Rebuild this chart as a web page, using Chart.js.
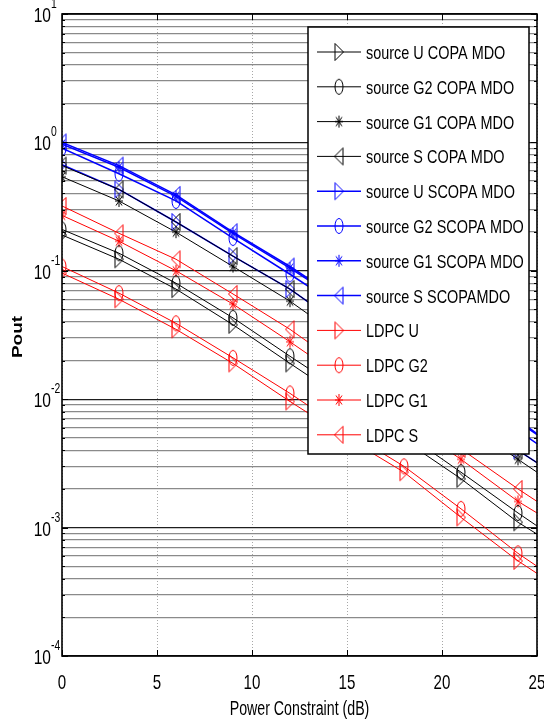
<!DOCTYPE html>
<html>
<head>
<meta charset="utf-8">
<script src="https://cdn.jsdelivr.net/npm/chart.js@4.4.1/dist/chart.umd.min.js"></script>
<style>
  html, body { margin: 0; padding: 0; background: #fff; }
  canvas { display: block; }
</style>
</head>
<body>
<canvas id="pout" width="544" height="722"></canvas>
<script>
// x values (dB); markers every 3 dB, last point only carries the line to the edge
const powerDb = [0, 3, 6, 9, 12, 15, 18, 21, 24, 25];
const xTicks = [0, 5, 10, 15, 20, 25];
const decades = [1e-4, 1e-3, 1e-2, 1e-1, 1, 10];

// COPA MDO (black)
const sourceU_COPA  = [0.19, 0.123, 0.072, 0.038, 0.019, 0.0096, 0.0048, 0.0024, 0.0011, 0.00089];
const sourceG2_COPA = [0.21, 0.137, 0.080, 0.043, 0.0216, 0.011, 0.0055, 0.0027, 0.0013, 0.00103];
const sourceG1_COPA = [0.54, 0.35, 0.20, 0.108, 0.058, 0.028, 0.0138, 0.0069, 0.0034, 0.0027];
const sourceS_COPA  = [0.66, 0.43, 0.24, 0.13, 0.072, 0.035, 0.0171, 0.0084, 0.0040, 0.0032];
// SCOPA MDO (blue)
const sourceU_SCOPA  = [0.67, 0.43, 0.24, 0.13, 0.072, 0.035, 0.0171, 0.0084, 0.0040, 0.0032];
const sourceG2_SCOPA = [0.90, 0.57, 0.35, 0.18, 0.094, 0.048, 0.024, 0.0117, 0.0057, 0.0045];
const sourceG1_SCOPA = [0.97, 0.64, 0.38, 0.196, 0.105, 0.054, 0.026, 0.0135, 0.0067, 0.0053];
const sourceS_SCOPA  = [1.00, 0.66, 0.39, 0.20, 0.108, 0.055, 0.027, 0.0138, 0.0069, 0.0054];
// LDPC (red)
const ldpcU  = [0.096, 0.060, 0.035, 0.019, 0.0096, 0.0050, 0.0027, 0.0012, 0.00055, 0.00044];
const ldpcG2 = [0.108, 0.067, 0.039, 0.021, 0.0111, 0.0056, 0.0030, 0.0014, 0.00063, 0.00050];
const ldpcG1 = [0.27, 0.17, 0.10, 0.055, 0.028, 0.0138, 0.0069, 0.0034, 0.0016, 0.0013];
const ldpcS  = [0.32, 0.196, 0.123, 0.066, 0.035, 0.017, 0.0084, 0.0041, 0.0020, 0.0016];

const FONT = "'Liberation Sans', Arial, sans-serif";

function makeMarker(shape, color) {
  const c = document.createElement('canvas');
  c.width = 12; c.height = 20;
  const g = c.getContext('2d');
  g.strokeStyle = color;
  g.lineWidth = 1;
  g.beginPath();
  if (shape === 'triR') {
    g.moveTo(2, 1.5); g.lineTo(10.5, 10); g.lineTo(2, 18.5); g.closePath();
  } else if (shape === 'triL') {
    g.moveTo(10, 1.5); g.lineTo(1.5, 10); g.lineTo(10, 18.5); g.closePath();
  } else if (shape === 'circle') {
    g.ellipse(6, 10, 4, 7.5, 0, 0, Math.PI * 2);
  } else {
    g.moveTo(6, 4); g.lineTo(6, 16);
    g.moveTo(2, 10); g.lineTo(10, 10);
    g.moveTo(3, 5.5); g.lineTo(9, 14.5);
    g.moveTo(9, 5.5); g.lineTo(3, 14.5);
  }
  g.stroke();
  return c;
}

function series(label, values, color, shape, width) {
  return {
    label,
    data: powerDb.map((x, i) => ({ x, y: values[i] })),
    borderColor: color,
    backgroundColor: color,
    borderWidth: width,
    pointStyle: makeMarker(shape, color),
    pointRadius: ctx => (ctx.raw && ctx.raw.x % 3 === 0 ? 5 : 0),
    pointHoverRadius: 0
  };
}

const BLACK = '#000000', BLUE = '#0000ff', RED = '#ff0000';
const datasets = [
  series('source U COPA MDO', sourceU_COPA, BLACK, 'triR', 1),
  series('source G2 COPA MDO', sourceG2_COPA, BLACK, 'circle', 1),
  series('source G1 COPA MDO', sourceG1_COPA, BLACK, 'star', 1),
  series('source S COPA MDO', sourceS_COPA, BLACK, 'triL', 1),
  series('source U SCOPA MDO', sourceU_SCOPA, BLUE, 'triR', 1.5),
  series('source G2 SCOPA MDO', sourceG2_SCOPA, BLUE, 'circle', 1.5),
  series('source G1 SCOPA MDO', sourceG1_SCOPA, BLUE, 'star', 1.5),
  series('source S SCOPAMDO', sourceS_SCOPA, BLUE, 'triL', 1.5),
  series('LDPC U', ldpcU, RED, 'triR', 1),
  series('LDPC G2', ldpcG2, RED, 'circle', 1),
  series('LDPC G1', ldpcG1, RED, 'star', 1),
  series('LDPC S', ldpcS, RED, 'triL', 1)
];

const isDecade = v => Math.abs(Math.log10(v) - Math.round(Math.log10(v))) < 1e-9;

// full log grid: 1..9 x each decade
const logGrid = [];
decades.slice(0, -1).forEach(d => { for (let m = 1; m < 10; m++) logGrid.push(d * m); });
logGrid.push(decades[decades.length - 1]);

// the figure's text is condensed: draw it squeezed horizontally
function narrowText(ctx, text, x, y, size, align, squeeze) {
  ctx.save();
  ctx.translate(x, y);
  ctx.scale(squeeze, 1);
  ctx.font = `${size}px ${FONT}`;
  ctx.textAlign = align;
  ctx.textBaseline = 'alphabetic';
  ctx.fillText(text, 0, 0);
  ctx.restore();
}

const matlabFrame = {
  id: 'matlabFrame',
  afterDatasetsDraw(chart) {
    const { ctx, chartArea: a } = chart;
    const bx = a.right - 229, by = a.top + 13, bw = 221, bh = 427;
    ctx.save();
    ctx.fillStyle = '#fff';
    ctx.fillRect(bx, by, bw, bh);
    ctx.strokeStyle = '#000';
    ctx.lineWidth = 1.5;
    ctx.strokeRect(bx, by, bw, bh);
    chart.data.datasets.forEach((ds, i) => {
      const cy = by + 25 + i * 34.8;
      ctx.strokeStyle = ds.borderColor;
      ctx.lineWidth = ds.borderWidth;
      ctx.beginPath();
      ctx.moveTo(bx + 9, cy);
      ctx.lineTo(bx + 53, cy);
      ctx.stroke();
      const m = ds.pointStyle;
      ctx.drawImage(m, bx + 31 - m.width / 2, cy - m.height / 2);
      ctx.fillStyle = '#000';
      narrowText(ctx, ds.label, bx + 58, cy + 7, 19, 'left', 0.76);
    });
    ctx.restore();
  },
  afterDraw(chart) {
    const { ctx, chartArea: a, scales } = chart;
    const y = scales.y, x = scales.x;
    ctx.save();
    // inner tick marks
    ctx.strokeStyle = '#000';
    ctx.lineWidth = 1;
    ctx.beginPath();
    logGrid.forEach(v => {
      const py = Math.round(y.getPixelForValue(v)) + 0.5;
      const len = isDecade(v) ? 6 : 3;
      ctx.moveTo(a.left, py); ctx.lineTo(a.left + len, py);
      ctx.moveTo(a.right, py); ctx.lineTo(a.right - len, py);
    });
    xTicks.forEach(v => {
      const px = Math.round(x.getPixelForValue(v)) + 0.5;
      ctx.moveTo(px, a.bottom); ctx.lineTo(px, a.bottom - 6);
      ctx.moveTo(px, a.top); ctx.lineTo(px, a.top + 6);
    });
    ctx.stroke();
    // axes box
    ctx.lineWidth = 1.6;
    ctx.strokeRect(a.left, a.top, a.right - a.left, a.bottom - a.top);

    ctx.fillStyle = '#000';
    // y tick labels 10^k
    decades.forEach(v => {
      const py = y.getPixelForValue(v);
      narrowText(ctx, '10', a.left - 11, py + 8, 21, 'right', 0.74);
      narrowText(ctx, String(Math.round(Math.log10(v))), a.left - 11, py - 6, 14, 'left', 0.74);
    });
    // x tick labels and title
    xTicks.forEach(v => {
      narrowText(ctx, String(v), x.getPixelForValue(v), a.bottom + 33, 21, 'center', 0.72);
    });
    narrowText(ctx, 'Power Constraint (dB)', (a.left + a.right) / 2, a.bottom + 59, 20, 'center', 0.71);

    // y title
    ctx.translate(18, (a.top + a.bottom) / 2 + 2);
    ctx.rotate(-Math.PI / 2);
    ctx.scale(1, 0.75);
    ctx.font = `bold 19px ${FONT}`;
    ctx.textAlign = 'center';
    ctx.textBaseline = 'middle';
    ctx.fillText('Pout', 0, 0);
    ctx.restore();
  }
};

new Chart(document.getElementById('pout'), {
  type: 'line',
  data: { datasets },
  options: {
    responsive: false,
    animation: false,
    events: [],
    layout: { padding: { left: 62, right: 7, top: 14, bottom: 66 } },
    plugins: {
      legend: { display: false },
      tooltip: { enabled: false }
    },
    scales: {
      x: {
        type: 'linear',
        min: 0,
        max: 25,
        afterBuildTicks: scale => { scale.ticks = xTicks.map(v => ({ value: v })); },
        ticks: { display: false },
        grid: { color: '#a8a8a8', lineWidth: 1, drawTicks: false },
        border: { display: false, dash: [1, 2] }
      },
      y: {
        type: 'logarithmic',
        min: 1e-4,
        max: 10,
        afterBuildTicks: scale => { scale.ticks = logGrid.map(v => ({ value: v })); },
        ticks: { display: false },
        grid: {
          drawTicks: false,
          lineWidth: 1.3,
          color: ctx => (ctx.tick && isDecade(ctx.tick.value) ? '#1e1e1e' : '#8a8a8a')
        },
        border: { display: false }
      }
    }
  },
  plugins: [matlabFrame]
});
</script>
</body>
</html>
